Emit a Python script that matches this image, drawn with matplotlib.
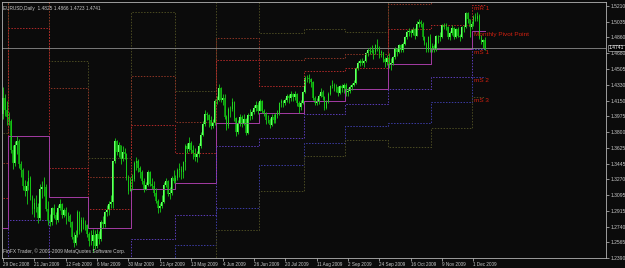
import numpy as np
import matplotlib
matplotlib.use('Agg')
import matplotlib.pyplot as plt
import matplotlib.transforms as mtransforms

plt.rcParams['font.family'] = ['Liberation Sans', 'DejaVu Sans']

# daily EURUSD bars, 29 Dec 2008 .. 9 Dec 2009
opens = [1.4000, 1.4180, 1.4050,
         1.3970, 1.3920, 1.3600, 1.3450, 1.3650, 1.3700, 1.3440, 1.3380, 1.3200, 1.3140, 1.3200, 1.3290, 1.3070, 1.2940, 1.3000, 1.2960, 1.2840, 1.3160, 1.3180, 1.3190, 1.2940,
         1.2800, 1.2790, 1.2950, 1.2870, 1.2820, 1.2950, 1.2990, 1.2870, 1.2930, 1.2860, 1.2860, 1.2790, 1.2620, 1.2560, 1.2650, 1.2900, 1.2690, 1.2820, 1.2770, 1.2760,
         1.2660, 1.2580, 1.2580, 1.2650, 1.2520, 1.2660, 1.2600, 1.2790, 1.2770, 1.2900, 1.2930, 1.2990, 1.3020, 1.3470, 1.3700, 1.3580, 1.3650, 1.3500, 1.3580, 1.3550, 1.3280, 1.3140,
         1.3250, 1.3270, 1.3450, 1.3480, 1.3400, 1.3350, 1.3250, 1.3160, 1.3210, 1.3350, 1.3220, 1.3200, 1.3120, 1.3030, 1.2950, 1.2970, 1.3020, 1.3210, 1.3250, 1.3110, 1.3120, 1.3280,
         1.3250, 1.3280, 1.3370, 1.3390, 1.3350, 1.3460, 1.3640, 1.3610, 1.3680, 1.3600, 1.3560, 1.3520, 1.3550, 1.3640, 1.3770, 1.3890, 1.4000, 1.3990, 1.3940, 1.3870, 1.3900,
         1.4150, 1.4160, 1.4290, 1.4160, 1.4180, 1.3970, 1.3870, 1.4060, 1.4060, 1.4140, 1.3960, 1.3800, 1.3900, 1.3970, 1.3900, 1.3950, 1.3790, 1.3990, 1.3980, 1.4020, 1.4070, 1.4100,
         1.4040, 1.4150, 1.4030, 1.4010, 1.3940, 1.3930, 1.3880, 1.3970, 1.3930, 1.3990, 1.4010, 1.4120, 1.4150, 1.4120, 1.4160, 1.4200, 1.4180, 1.4220, 1.4190, 1.4230, 1.4130, 1.4080, 1.4130,
         1.4250, 1.4410, 1.4410, 1.4390, 1.4360, 1.4180, 1.4130, 1.4150, 1.4200, 1.4250, 1.4190, 1.4070, 1.4150, 1.4230, 1.4320, 1.4330, 1.4300, 1.4300, 1.4240, 1.4320, 1.4290,
         1.4330, 1.4250, 1.4260, 1.4300, 1.4330, 1.4350, 1.4520, 1.4570, 1.4590, 1.4570, 1.4590, 1.4680, 1.4720, 1.4710, 1.4700, 1.4690, 1.4770, 1.4730, 1.4680, 1.4690, 1.4620, 1.4580,
         1.4630, 1.4550, 1.4570, 1.4640, 1.4730, 1.4690, 1.4770, 1.4720, 1.4790, 1.4860, 1.4920, 1.4930, 1.4910, 1.4950, 1.4880, 1.5010, 1.5030, 1.5010, 1.4860, 1.4790, 1.4720, 1.4860,
         1.4720, 1.4760, 1.4730, 1.4870, 1.4870, 1.4860, 1.5000, 1.4980, 1.4970, 1.4860, 1.4910, 1.4960, 1.4860, 1.4950, 1.4870, 1.4860, 1.4970, 1.4970, 1.5130, 1.5060, 1.4970,
         1.5010, 1.5090, 1.5060, 1.5100, 1.4850, 1.4810, 1.4825]
highs = [1.4300, 1.4220, 1.4150,
         1.4020, 1.3950, 1.3650, 1.3700, 1.3760, 1.3720, 1.3470, 1.3400, 1.3260, 1.3250, 1.3370, 1.3310, 1.3090, 1.3060, 1.3100, 1.3000, 1.3220, 1.3250, 1.3300, 1.3220, 1.3030,
         1.2880, 1.2960, 1.2990, 1.2900, 1.2980, 1.3050, 1.3010, 1.2950, 1.2960, 1.2900, 1.2880, 1.2800, 1.2680, 1.2700, 1.2930, 1.2920, 1.2850, 1.2850, 1.2810, 1.2770,
         1.2680, 1.2700, 1.2710, 1.2700, 1.2720, 1.2690, 1.2820, 1.2860, 1.2920, 1.2980, 1.3030, 1.3100, 1.3480, 1.3738, 1.3710, 1.3690, 1.3660, 1.3640, 1.3620, 1.3560, 1.3320, 1.3300,
         1.3330, 1.3470, 1.3520, 1.3500, 1.3420, 1.3370, 1.3290, 1.3240, 1.3380, 1.3360, 1.3290, 1.3250, 1.3170, 1.3050, 1.3000, 1.3100, 1.3240, 1.3290, 1.3260, 1.3180, 1.3310, 1.3380,
         1.3320, 1.3400, 1.3450, 1.3420, 1.3480, 1.3670, 1.3680, 1.3740, 1.3700, 1.3650, 1.3620, 1.3590, 1.3680, 1.3800, 1.3920, 1.4050, 1.4020, 1.4000, 1.3980, 1.3950, 1.4170,
         1.4200, 1.4340, 1.4300, 1.4230, 1.4220, 1.3990, 1.4080, 1.4090, 1.4180, 1.4150, 1.3970, 1.3930, 1.4000, 1.3990, 1.4000, 1.3960, 1.4010, 1.4060, 1.4050, 1.4100, 1.4150, 1.4140,
         1.4170, 1.4160, 1.4060, 1.4020, 1.3990, 1.3960, 1.4000, 1.4000, 1.4010, 1.4050, 1.4140, 1.4170, 1.4160, 1.4180, 1.4230, 1.4220, 1.4260, 1.4240, 1.4260, 1.4240, 1.4150, 1.4160, 1.4260,
         1.4430, 1.4440, 1.4450, 1.4400, 1.4370, 1.4200, 1.4180, 1.4230, 1.4290, 1.4270, 1.4200, 1.4160, 1.4250, 1.4330, 1.4380, 1.4350, 1.4340, 1.4310, 1.4330, 1.4340, 1.4350,
         1.4350, 1.4290, 1.4330, 1.4350, 1.4380, 1.4530, 1.4600, 1.4620, 1.4630, 1.4610, 1.4700, 1.4740, 1.4750, 1.4770, 1.4730, 1.4790, 1.4840, 1.4760, 1.4720, 1.4700, 1.4640, 1.4660,
         1.4680, 1.4630, 1.4650, 1.4750, 1.4740, 1.4790, 1.4790, 1.4810, 1.4880, 1.4940, 1.4960, 1.4950, 1.4970, 1.4960, 1.5040, 1.5060, 1.5050, 1.5030, 1.4880, 1.4810, 1.4870, 1.4900,
         1.4800, 1.4780, 1.4890, 1.4890, 1.4920, 1.5010, 1.5020, 1.5020, 1.4990, 1.4930, 1.5000, 1.4970, 1.4960, 1.4970, 1.4900, 1.4990, 1.5000, 1.5140, 1.5140, 1.5070, 1.5040,
         1.5110, 1.5130, 1.5140, 1.5120, 1.4890, 1.4840, 1.4866]
lows = [1.3950, 1.3980, 1.3880,
        1.3880, 1.3560, 1.3390, 1.3420, 1.3550, 1.3400, 1.3300, 1.3150, 1.3080, 1.2990, 1.3150, 1.3040, 1.2880, 1.2850, 1.2900, 1.2780, 1.2820, 1.3060, 1.3080, 1.2920, 1.2760,
        1.2750, 1.2760, 1.2840, 1.2770, 1.2790, 1.2930, 1.2840, 1.2850, 1.2770, 1.2800, 1.2740, 1.2600, 1.2510, 1.2530, 1.2620, 1.2660, 1.2680, 1.2720, 1.2700, 1.2630,
        1.2520, 1.2540, 1.2457, 1.2490, 1.2500, 1.2550, 1.2580, 1.2730, 1.2740, 1.2860, 1.2870, 1.2950, 1.2950, 1.3450, 1.3540, 1.3520, 1.3440, 1.3470, 1.3500, 1.3260, 1.3110, 1.3140,
        1.3150, 1.3250, 1.3380, 1.3350, 1.3290, 1.3220, 1.3130, 1.3150, 1.3200, 1.3200, 1.3160, 1.3080, 1.3010, 1.2890, 1.2900, 1.2950, 1.3000, 1.3180, 1.3080, 1.3050, 1.3100, 1.3230,
        1.3230, 1.3260, 1.3300, 1.3270, 1.3290, 1.3380, 1.3560, 1.3590, 1.3560, 1.3500, 1.3480, 1.3460, 1.3520, 1.3620, 1.3760, 1.3870, 1.3930, 1.3860, 1.3830, 1.3840, 1.3880,
        1.4110, 1.4150, 1.4140, 1.4100, 1.3950, 1.3820, 1.3850, 1.3970, 1.4040, 1.3920, 1.3760, 1.3780, 1.3870, 1.3860, 1.3880, 1.3770, 1.3780, 1.3930, 1.3950, 1.4000, 1.4040, 1.4000,
        1.4030, 1.4010, 1.3980, 1.3890, 1.3900, 1.3850, 1.3870, 1.3900, 1.3900, 1.3960, 1.3990, 1.4080, 1.4080, 1.4100, 1.4140, 1.4130, 1.4150, 1.4150, 1.4160, 1.4090, 1.4010, 1.4050, 1.4110,
        1.4240, 1.4360, 1.4350, 1.4300, 1.4160, 1.4100, 1.4100, 1.4110, 1.4190, 1.4160, 1.4050, 1.4060, 1.4130, 1.4210, 1.4290, 1.4260, 1.4250, 1.4200, 1.4220, 1.4250, 1.4240,
        1.4200, 1.4200, 1.4240, 1.4270, 1.4310, 1.4340, 1.4490, 1.4540, 1.4550, 1.4530, 1.4580, 1.4650, 1.4670, 1.4680, 1.4620, 1.4670, 1.4710, 1.4630, 1.4640, 1.4580, 1.4530, 1.4550,
        1.4520, 1.4490, 1.4550, 1.4620, 1.4650, 1.4680, 1.4700, 1.4700, 1.4770, 1.4840, 1.4880, 1.4860, 1.4890, 1.4840, 1.4870, 1.4980, 1.4970, 1.4830, 1.4770, 1.4690, 1.4700, 1.4700,
        1.4690, 1.4700, 1.4710, 1.4800, 1.4820, 1.4850, 1.4950, 1.4940, 1.4840, 1.4830, 1.4890, 1.4840, 1.4850, 1.4860, 1.4820, 1.4850, 1.4920, 1.4960, 1.5020, 1.4860, 1.4950,
        1.4990, 1.5040, 1.5040, 1.4840, 1.4780, 1.4740, 1.4723]
closes = [1.4180, 1.4050, 1.3970,
          1.3920, 1.3600, 1.3450, 1.3650, 1.3700, 1.3440, 1.3380, 1.3200, 1.3140, 1.3200, 1.3290, 1.3070, 1.2940, 1.3000, 1.2960, 1.2840, 1.3160, 1.3180, 1.3190, 1.2940, 1.2800,
          1.2790, 1.2950, 1.2870, 1.2820, 1.2950, 1.2990, 1.2870, 1.2930, 1.2860, 1.2860, 1.2790, 1.2620, 1.2560, 1.2650, 1.2900, 1.2690, 1.2820, 1.2770, 1.2760, 1.2660,
          1.2580, 1.2580, 1.2650, 1.2520, 1.2660, 1.2600, 1.2790, 1.2770, 1.2900, 1.2930, 1.2990, 1.3020, 1.3470, 1.3700, 1.3580, 1.3650, 1.3500, 1.3580, 1.3550, 1.3280, 1.3140, 1.3250,
          1.3270, 1.3450, 1.3480, 1.3400, 1.3350, 1.3250, 1.3160, 1.3210, 1.3350, 1.3220, 1.3200, 1.3120, 1.3030, 1.2950, 1.2970, 1.3020, 1.3210, 1.3250, 1.3110, 1.3120, 1.3280, 1.3250,
          1.3280, 1.3370, 1.3390, 1.3350, 1.3460, 1.3640, 1.3610, 1.3680, 1.3600, 1.3560, 1.3520, 1.3550, 1.3640, 1.3770, 1.3890, 1.4000, 1.3990, 1.3940, 1.3870, 1.3900, 1.4150,
          1.4160, 1.4290, 1.4160, 1.4180, 1.3970, 1.3870, 1.4060, 1.4060, 1.4140, 1.3960, 1.3800, 1.3900, 1.3970, 1.3900, 1.3950, 1.3790, 1.3990, 1.3980, 1.4020, 1.4070, 1.4100, 1.4040,
          1.4150, 1.4030, 1.4010, 1.3940, 1.3930, 1.3880, 1.3970, 1.3930, 1.3990, 1.4010, 1.4120, 1.4150, 1.4120, 1.4160, 1.4200, 1.4180, 1.4220, 1.4190, 1.4230, 1.4130, 1.4080, 1.4130, 1.4250,
          1.4410, 1.4410, 1.4390, 1.4360, 1.4180, 1.4130, 1.4150, 1.4200, 1.4250, 1.4190, 1.4070, 1.4150, 1.4230, 1.4320, 1.4330, 1.4300, 1.4300, 1.4240, 1.4320, 1.4290, 1.4330,
          1.4250, 1.4260, 1.4300, 1.4330, 1.4350, 1.4520, 1.4570, 1.4590, 1.4570, 1.4590, 1.4680, 1.4720, 1.4710, 1.4700, 1.4690, 1.4770, 1.4730, 1.4680, 1.4690, 1.4620, 1.4580, 1.4630,
          1.4550, 1.4570, 1.4640, 1.4730, 1.4690, 1.4770, 1.4720, 1.4790, 1.4860, 1.4920, 1.4930, 1.4910, 1.4950, 1.4880, 1.5010, 1.5030, 1.5010, 1.4860, 1.4790, 1.4720, 1.4860, 1.4720,
          1.4760, 1.4730, 1.4870, 1.4870, 1.4860, 1.5000, 1.4980, 1.4970, 1.4860, 1.4910, 1.4960, 1.4860, 1.4950, 1.4870, 1.4860, 1.4970, 1.4970, 1.5130, 1.5060, 1.4970, 1.5010,
          1.5090, 1.5060, 1.5100, 1.4850, 1.4810, 1.4825, 1.4741]

# monthly pivot levels (Dec 2008 .. Dec 2009) and bars per month
month_bars = [3, 21, 20, 22, 22, 21, 22, 23, 21, 22, 22, 21, 7]
r3 = [1.3789, 1.7112, 1.4595, 1.3509, 1.5143, 1.4259, 1.5557, 1.4908, 1.4953, 1.4919, 1.5624, 1.5579, 1.5714]
r2 = [1.3453, 1.5904, 1.4292, 1.3296, 1.4427, 1.3912, 1.4852, 1.4606, 1.4628, 1.4673, 1.5232, 1.5311, 1.5423]
r1 = [1.3061, 1.4964, 1.3397, 1.2938, 1.3878, 1.3565, 1.4606, 1.4315, 1.4483, 1.4516, 1.4953, 1.4997, 1.5221]
pp = [1.2726, 1.3755, 1.3073, 1.2726, 1.3162, 1.3229, 1.3901, 1.4013, 1.4147, 1.4281, 1.4561, 1.4729, 1.4930]
s1 = [1.2334, 1.2815, 1.2177, 1.2368, 1.2603, 1.2871, 1.3643, 1.3733, 1.4001, 1.4113, 1.4281, 1.4415, 1.4729]
s2 = [1.1998, 1.1607, 1.1853, 1.2155, 1.1898, 1.2535, 1.2950, 1.3431, 1.3677, 1.3867, 1.3901, 1.4136, 1.4415]
s3 = [1.1607, 1.0667, 1.0958, 1.1797, 1.1338, 1.2189, 1.2703, 1.3140, 1.3531, 1.3710, 1.3632, 1.3845, 1.4192]

date_labels = ['29 Dec 2008', '21 Jan 2009', '12 Feb 2009', '6 Mar 2009', '30 Mar 2009',
               '21 Apr 2009', '13 May 2009', '4 Jun 2009', '26 Jun 2009', '20 Jul 2009',
               '11 Aug 2009', '2 Sep 2009', '24 Sep 2009', '16 Oct 2009', '9 Nov 2009', '1 Dec 2009']
price_ticks = [1.5210, 1.5035, 1.4860, 1.4680, 1.4505, 1.4330, 1.4150, 1.3975, 1.3800,
               1.3625, 1.3445, 1.3270, 1.3095, 1.2915, 1.2740, 1.2565, 1.2390]
bid = 1.4741

bg = '#0b0b0b'
fg = '#c8c8c8'

fig = plt.figure(figsize=(6.25, 2.68), dpi=100, facecolor=bg)
ax = fig.add_axes([2 / 625, 10 / 268, 604 / 625, 256 / 268], facecolor=bg)

o = np.array(opens)
h = np.array(highs)
l = np.array(lows)
c = np.array(closes)
x = np.arange(len(c))

# pivot step lines
dots = (0, (1.5, 1.5))
styles = [(r3, '#4a4a22', dots),
          (r2, '#8a3424', dots),
          (r1, '#b02828', dots),
          (pp, '#a43ca4', '-'),
          (s1, '#5a3cb8', dots),
          (s2, '#3c3ca4', dots),
          (s3, '#4a4a22', dots)]
for lev, col, ls in styles:
    ax.plot(x, np.repeat(lev, month_bars), drawstyle='steps-mid', color=col, lw=0.7, ls=ls)

# bid line
ax.axhline(bid, color='#8c8c8c', lw=0.6)

# candles
up = c >= o
ax.vlines(x, l, h, color='#18d018', lw=0.6)
ax.bar(x[up], (c - o)[up], bottom=o[up], width=0.8, color='#6cff6c', linewidth=0)
ax.bar(x[~up], (c - o)[~up], bottom=o[~up], width=0.8, color='#0a900a', linewidth=0)

# level labels on the last month
lab_x = len(c) - month_bars[-1]
for txt, val in [('mR 1', r1[-1]), ('Monthly Pivot Point', pp[-1]),
                 ('mS 1', s1[-1]), ('mS 2', s2[-1]), ('mS 3', s3[-1])]:
    ax.text(lab_x + 0.5, val - 0.0008, txt, color='#d02010', fontsize=4.6, ha='left', va='top')

ax.set_xlim(-0.5, 307.6)
ax.set_ylim(1.2390, 1.5255)

ax.set_xticks(np.arange(len(date_labels)) * 16)
ax.set_xticklabels(date_labels)
ax.yaxis.tick_right()
ax.set_yticks(price_ticks)
ax.set_yticklabels(['%.4f' % p for p in price_ticks])
ax.tick_params(axis='x', colors=fg, labelsize=3.3, length=2, width=0.5, pad=1)
ax.tick_params(axis='y', colors=fg, labelsize=3.6, length=2, width=0.5, pad=1)
for t in ax.get_xticklabels():
    t.set_ha('left')
for s in ax.spines.values():
    s.set_color('#b4b4b4')
    s.set_linewidth(0.6)

# bid price box on the price scale
trans = mtransforms.blended_transform_factory(ax.transAxes, ax.transData)
ax.text(1.004, bid, '%.4f' % bid, transform=trans, fontsize=3.6, color='white', ha='left', va='center',
        bbox=dict(boxstyle='square,pad=0.15', fc='black', ec='#d0d0d0', lw=0.4))

ax.text(0.002, 0.985, 'EURUSD,Daily  1.4825 1.4866 1.4723 1.4741', transform=ax.transAxes,
        color=fg, fontsize=3.4, ha='left', va='top')
ax.text(0.002, 0.015, 'FinFX Trader, \u00a9 2001-2009 MetaQuotes Software Corp.', transform=ax.transAxes,
        color=fg, fontsize=3.5, ha='left', va='bottom')

fig.savefig('out.png', dpi=100, facecolor=bg)
